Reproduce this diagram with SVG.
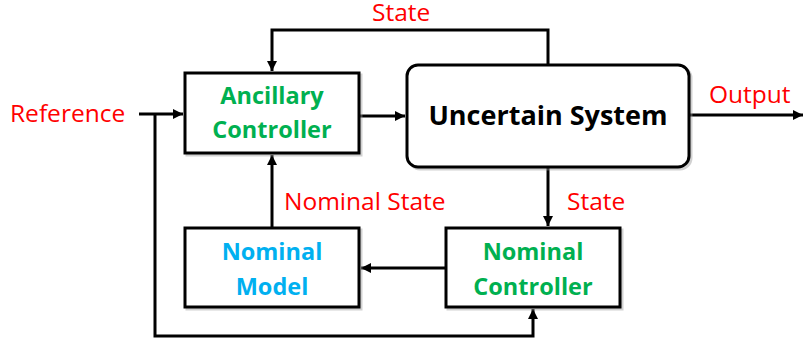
<svg xmlns="http://www.w3.org/2000/svg" width="805" height="343" viewBox="0 0 805 343">
  <defs>
    <marker id="arrow" viewBox="0 0 10 10" refX="10" refY="5" markerWidth="3.4" markerHeight="3.4" markerUnits="strokeWidth" orient="auto">
      <path d="M0,0 L10,5 L0,10 Z" fill="#000"/>
    </marker>
  </defs>
  <style>
    .box { fill: #fff; stroke: #000; stroke-width: 3; }
    .shadow { fill: none; stroke: #999; stroke-width: 3; opacity: 0.45; }
    .wire { fill: none; stroke: #000; stroke-width: 3; }
    .lbl { font-family: "Open Sans", "Liberation Sans", sans-serif; font-size: 24.5px; fill: #ff0000; }
    .name { font-family: "Open Sans", "Liberation Sans", sans-serif; font-size: 23.5px; font-weight: bold; text-anchor: middle; }
    .green { fill: #00b050; }
    .blue { fill: #00b0f0; }
  </style>
  <rect width="805" height="343" fill="#fff"/>

  <g id="connectors">
    <!-- state feedback over the top -->
    <path class="wire" d="M548,65 V30 H272 V71" marker-end="url(#arrow)"/>
    <!-- reference into ancillary controller -->
    <path class="wire" d="M139,114 H183" marker-end="url(#arrow)"/>
    <!-- reference branch to nominal controller -->
    <path class="wire" d="M155,114 V336 H533 V309" marker-end="url(#arrow)"/>
    <!-- ancillary controller to plant -->
    <path class="wire" d="M359,116 H405" marker-end="url(#arrow)"/>
    <!-- plant output -->
    <path class="wire" d="M689,115 H803" marker-end="url(#arrow)"/>
    <!-- plant state to nominal controller -->
    <path class="wire" d="M548,167 V226" marker-end="url(#arrow)"/>
    <!-- nominal controller to nominal model -->
    <path class="wire" d="M446,268 H361" marker-end="url(#arrow)"/>
    <!-- nominal state to ancillary controller -->
    <path class="wire" d="M272,228 V155" marker-end="url(#arrow)"/>
  </g>

  <g id="ancillary-controller">
    <rect class="shadow" x="187" y="75" width="174" height="80"/>
    <rect class="box" x="185" y="73" width="174" height="80"/>
    <text class="name green" x="272" y="104">Ancillary</text>
    <text class="name green" x="272" y="138">Controller</text>
  </g>

  <g id="uncertain-system">
    <rect class="shadow" x="409" y="67" width="282" height="102" rx="11"/>
    <rect class="box" x="407" y="65" width="282" height="102" rx="11"/>
    <text class="name" x="548" y="125" style="font-size:27px;fill:#000">Uncertain System</text>
  </g>

  <g id="nominal-model">
    <rect class="shadow" x="187" y="230" width="174" height="79"/>
    <rect class="box" x="185" y="228" width="174" height="79"/>
    <text class="name blue" x="272" y="260">Nominal</text>
    <text class="name blue" x="272" y="295">Model</text>
  </g>

  <g id="nominal-controller">
    <rect class="shadow" x="448" y="230" width="174" height="79"/>
    <rect class="box" x="446" y="228" width="174" height="79"/>
    <text class="name green" x="533" y="260">Nominal</text>
    <text class="name green" x="533" y="295">Controller</text>
  </g>

  <g id="labels">
    <text class="lbl" x="372" y="21">State</text>
    <text class="lbl" x="10" y="122">Reference</text>
    <text class="lbl" x="709" y="103">Output</text>
    <text class="lbl" x="284" y="210">Nominal State</text>
    <text class="lbl" x="567" y="210">State</text>
  </g>
</svg>
